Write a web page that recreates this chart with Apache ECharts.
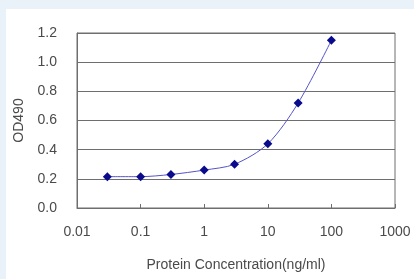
<!DOCTYPE html>
<html>
<head>
<meta charset="utf-8">
<script src="https://cdn.jsdelivr.net/npm/echarts@6/dist/echarts.min.js"></script>
<style>
html,body{margin:0;padding:0;background:#e9f2f8;}
#chart{width:414px;height:279px;}
</style>
</head>
<body>
<div id="chart"></div>
<script>
const concentrations = [0.03, 0.1, 0.3, 1, 3, 10, 30, 100];
const od490 = [0.215, 0.215, 0.23, 0.26, 0.30, 0.44, 0.72, 1.15];
const xTickLabels = ['0.01', '0.1', '1', '10', '100', '1000'];
const yTickLabels = ['0.0', '0.2', '0.4', '0.6', '0.8', '1.0', '1.2'];
const xAxisTitle = 'Protein Concentration(ng/ml)';
const yAxisTitle = 'OD490';

const chart = echarts.init(document.getElementById('chart'), null, {renderer: 'canvas'});
const font = 'Liberation Sans, Arial, sans-serif';
chart.setOption({
  backgroundColor: '#e9f2f8',
  animation: false,
  graphic: [{
    type: 'rect', z: -10, silent: true,
    shape: {x: 6, y: 9, width: 408, height: 270},
    style: {fill: '#ffffff'}
  }],
  grid: {left: 77, right: 19, top: 33, bottom: 71, show: true, borderColor: '#6e6e6e', borderWidth: 1, backgroundColor: 'transparent'},
  xAxis: {
    type: 'log', logBase: 10, min: 0.01, max: 1000,
    name: xAxisTitle, nameLocation: 'middle', nameGap: 50,
    nameTextStyle: {fontFamily: font, fontSize: 14, color: '#4a4a4a'},
    axisLine: {show: true, lineStyle: {color: '#6e6e6e', width: 1}},
    axisTick: {show: true, inside: true, length: 4, lineStyle: {color: '#6e6e6e'}},
    minorTick: {show: false},
    splitLine: {show: false},
    axisLabel: {
      margin: 17, fontFamily: font, fontSize: 14, color: '#4a4a4a',
      formatter: function (v) {
        const idx = Math.round(Math.log10(v)) + 2;
        return xTickLabels[idx] !== undefined ? xTickLabels[idx] : '';
      }
    }
  },
  yAxis: {
    type: 'value', min: 0, max: 1.2, interval: 0.2,
    name: yAxisTitle, nameLocation: 'middle', nameGap: 51, nameRotate: 90,
    nameTextStyle: {fontFamily: font, fontSize: 14, color: '#4a4a4a'},
    axisLine: {show: true, lineStyle: {color: '#6e6e6e', width: 1}},
    axisTick: {show: false},
    splitLine: {show: true, lineStyle: {color: '#6e6e6e', width: 1}},
    axisLabel: {
      margin: 20, fontFamily: font, fontSize: 14, color: '#4a4a4a',
      formatter: function (v) { return yTickLabels[Math.round(v / 0.2)]; }
    }
  },
  series: [{
    type: 'line',
    data: concentrations.map((c, i) => [c, od490[i]]),
    smooth: 0.3,
    symbol: 'diamond', symbolSize: 9,
    itemStyle: {color: '#0a0a8c'},
    lineStyle: {color: '#5555c8', width: 1}
  }]
});
</script>
</body>
</html>
